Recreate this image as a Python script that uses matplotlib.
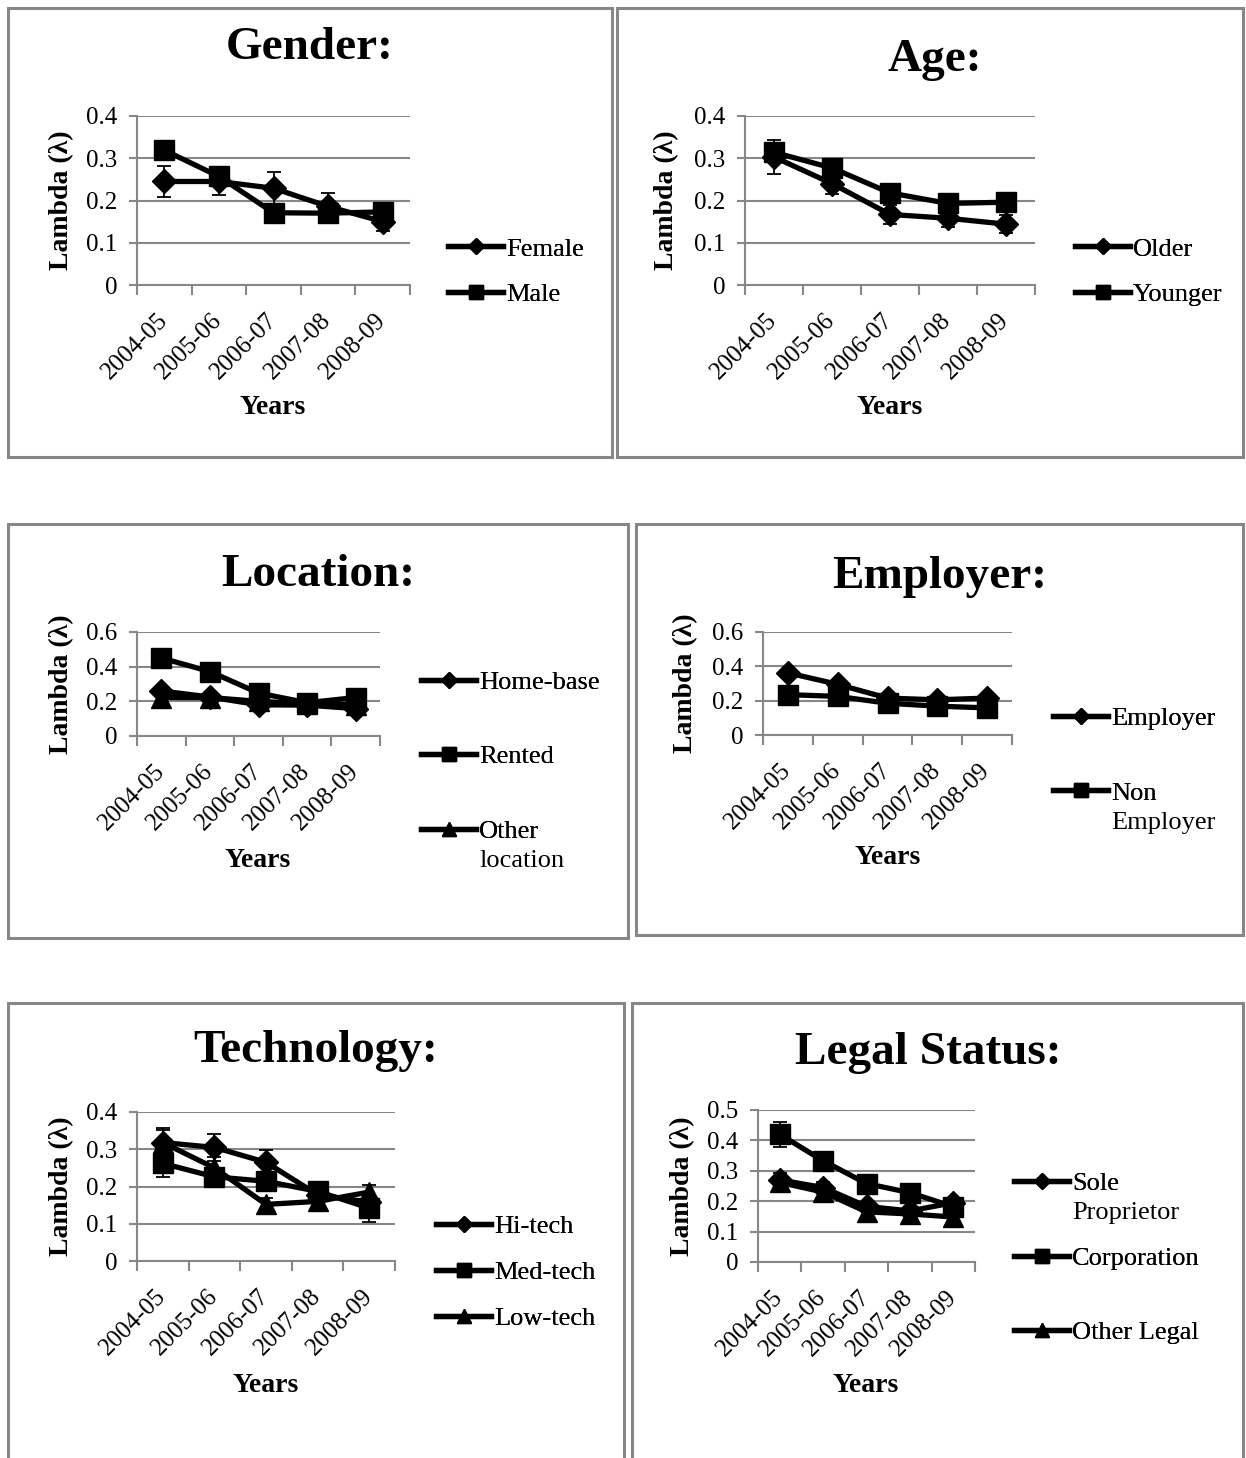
import matplotlib
matplotlib.use("Agg")
import matplotlib.pyplot as plt
from matplotlib.lines import Line2D
from matplotlib.patches import Rectangle
from matplotlib.transforms import ScaledTranslation
import numpy as np

plt.rcParams['font.family'] = ['Liberation Serif', 'DejaVu Serif']

# data
years = ['2004-05', '2005-06', '2006-07', '2007-08', '2008-09']

female = [0.245, 0.245, 0.229, 0.186, 0.150]
female_err = [0.037, 0.033, 0.038, 0.032, 0.022]
male = [0.319, 0.257, 0.171, 0.170, 0.173]

older = [0.303, 0.240, 0.167, 0.158, 0.144]
older_err = [0.040, 0.024, 0.023, 0.020, 0.022]
younger = [0.314, 0.277, 0.218, 0.193, 0.196]

home_base = [0.260, 0.225, 0.180, 0.178, 0.158]
rented = [0.450, 0.372, 0.248, 0.192, 0.222]
other_location = [0.222, 0.222, 0.200, 0.186, 0.180]

employer = [0.362, 0.295, 0.215, 0.205, 0.215]
non_employer = [0.235, 0.225, 0.185, 0.168, 0.158]

hi_tech = [0.318, 0.305, 0.265, 0.178, 0.158]
hi_tech_err = [0.040, 0.036, 0.033, 0.020, 0.018]
med_tech = [0.262, 0.226, 0.214, 0.187, 0.142]
med_tech_err = [0.036, 0.020, 0.020, 0.020, 0.036]
low_tech = [0.318, 0.250, 0.152, 0.160, 0.185]
low_tech_err = [0.034, 0.030, 0.018, 0.015, 0.018]

sole_prop = [0.270, 0.245, 0.183, 0.168, 0.195]
sole_prop_err = [0.022, 0.018, 0.015, 0.012, 0.012]
corporation = [0.420, 0.333, 0.258, 0.228, 0.182]
corporation_err = [0.042, 0.015, 0.015, 0.012, 0.015]
other_legal = [0.262, 0.230, 0.165, 0.158, 0.148]

W, H = 1246, 1458
fig = plt.figure(figsize=(W / 100, H / 100), dpi=100)

GRAY = '#878787'
MS = {'D': 12, 's': 15, '^': 14}
LEG_FS = 19
LEG_PX = LEG_FS * 100 / 72


def px_axes(l, t, r, b):
    return fig.add_axes([l / W, 1 - b / H, (r - l) / W, (b - t) / H])


def fx(x):
    return x / W


def fy(y):
    return 1 - y / H


def panel(box, ax_rect, title, title_xy, ymax, ystep, series, legend_x, legend_ys,
          years_xy, ylab_x):
    # grey frame round the panel
    l, t, r, b = box
    fig.add_artist(Rectangle((fx(l), fy(b)), fx(r - l), (b - t) / H,
                             transform=fig.transFigure, fill=False,
                             edgecolor=GRAY, linewidth=2.2))
    fig.text(fx(title_xy[0]), fy(title_xy[1]), title, fontsize=34,
             fontweight='bold', ha='center', va='center')

    ax = px_axes(*ax_rect)
    x = np.arange(len(years))
    for name, vals, err, mk in series:
        ax.plot(x, vals, color='black', lw=3.8, marker=mk, ms=MS[mk], zorder=3)
        if err is not None:
            ax.errorbar(x, vals, yerr=err, fmt='none', ecolor='black',
                        elinewidth=1.3, capsize=5, capthick=1.3, zorder=4)

    ax.set_xlim(-0.5, len(years) - 0.5)
    ax.set_ylim(0, ymax)
    ax.set_yticks(np.arange(0, ymax + 1e-9, ystep))
    ax.set_yticklabels(['0'] + ['%g' % v for v in np.arange(ystep, ymax + 1e-9, ystep)])
    ax.yaxis.grid(True, color=GRAY, lw=1.5)
    ax.set_axisbelow(True)
    ax.set_xticks(np.arange(-0.5, len(years), 1.0))
    ax.set_xticklabels([])
    ax.set_xticks(x, minor=True)
    ax.set_xticklabels(years, minor=True, rotation=45, ha='right',
                       rotation_mode='anchor', fontsize=18)
    ax.tick_params(axis='x', which='major', length=7, color=GRAY, width=1.5)
    ax.tick_params(axis='x', which='minor', length=0, pad=14)
    ax.tick_params(axis='y', length=6, color=GRAY, width=1.5, labelsize=18, pad=8)
    # nudge the slanted year labels a little left and down
    shift = ScaledTranslation(-8 / 100, -5 / 100, fig.dpi_scale_trans)
    for lab in ax.get_xticklabels(minor=True):
        lab.set_transform(lab.get_transform() + shift)
    for s in ['top', 'right']:
        ax.spines[s].set_visible(False)
    for s in ['left', 'bottom']:
        ax.spines[s].set_color(GRAY)
        ax.spines[s].set_linewidth(1.5)
    fig.text(fx(ylab_x), fy((ax_rect[1] + ax_rect[3]) / 2), 'Lambda (λ)', fontsize=20,
             fontweight='bold', rotation=90, ha='center', va='center')
    fig.text(fx(years_xy[0]), fy(years_xy[1]), 'Years', fontsize=20,
             fontweight='bold', ha='center', va='center')

    # one legend entry per row; extra label lines sit under the first one
    for (name, vals, err, mk), ly in zip(series, legend_ys):
        lines = name.split('\n')
        h = Line2D([], [], color='black', lw=3.8, marker=mk, ms=MS[mk] * 0.68)
        lg = fig.legend([h], [lines[0]], loc='center left',
                        bbox_to_anchor=(fx(legend_x), fy(ly)),
                        frameon=False, fontsize=LEG_FS, handlelength=2.1,
                        handletextpad=0.1, borderpad=0, borderaxespad=0)
        fig.add_artist(lg)
        tx = legend_x + 2.2 * LEG_PX
        for k, extra in enumerate(lines[1:], start=1):
            fig.text(fx(tx), fy(ly + 30 * k), extra, fontsize=LEG_FS,
                     ha='left', va='center')
    return ax


panel((8, 8, 612, 457), (137, 116, 410, 285), 'Gender:', (310, 48), 0.4, 0.1,
      [('Female', female, female_err, 'D'), ('Male', male, None, 's')],
      448, [249, 294], (273, 408), 62)

panel((617, 8, 1243, 457), (745, 116, 1035, 285), 'Age:', (935, 60), 0.4, 0.1,
      [('Older', older, older_err, 'D'), ('Younger', younger, None, 's')],
      1075, [249, 294], (890, 408), 667)

panel((8, 524, 628, 938), (137, 632, 380, 736), 'Location:', (318, 575), 0.6, 0.2,
      [('Home-base', home_base, None, 'D'), ('Rented', rented, None, 's'),
       ('Other\nlocation', other_location, None, '^')],
      421, [682, 756, 831], (258, 860), 62)

panel((636, 524, 1243, 935), (763, 632, 1012, 735), 'Employer:', (940, 577), 0.6, 0.2,
      [('Employer', employer, None, 'D'), ('Non\nEmployer', non_employer, None, 's')],
      1053, [718, 793], (888, 858), 686)

panel((8, 1003, 624, 1470), (137, 1112, 395, 1261), 'Technology:', (316, 1051), 0.4, 0.1,
      [('Hi-tech', hi_tech, hi_tech_err, 'D'), ('Med-tech', med_tech, med_tech_err, 's'),
       ('Low-tech', low_tech, low_tech_err, '^')],
      436, [1226, 1272, 1318], (266, 1385), 62)

panel((632, 1003, 1243, 1470), (758, 1110, 975, 1262), 'Legal Status:', (928, 1053), 0.5, 0.1,
      [('Sole\nProprietor', sole_prop, sole_prop_err, 'D'),
       ('Corporation', corporation, corporation_err, 's'),
       ('Other Legal', other_legal, None, '^')],
      1014, [1183, 1258, 1332], (866, 1385), 683)

fig.savefig('out.png', dpi=100)
